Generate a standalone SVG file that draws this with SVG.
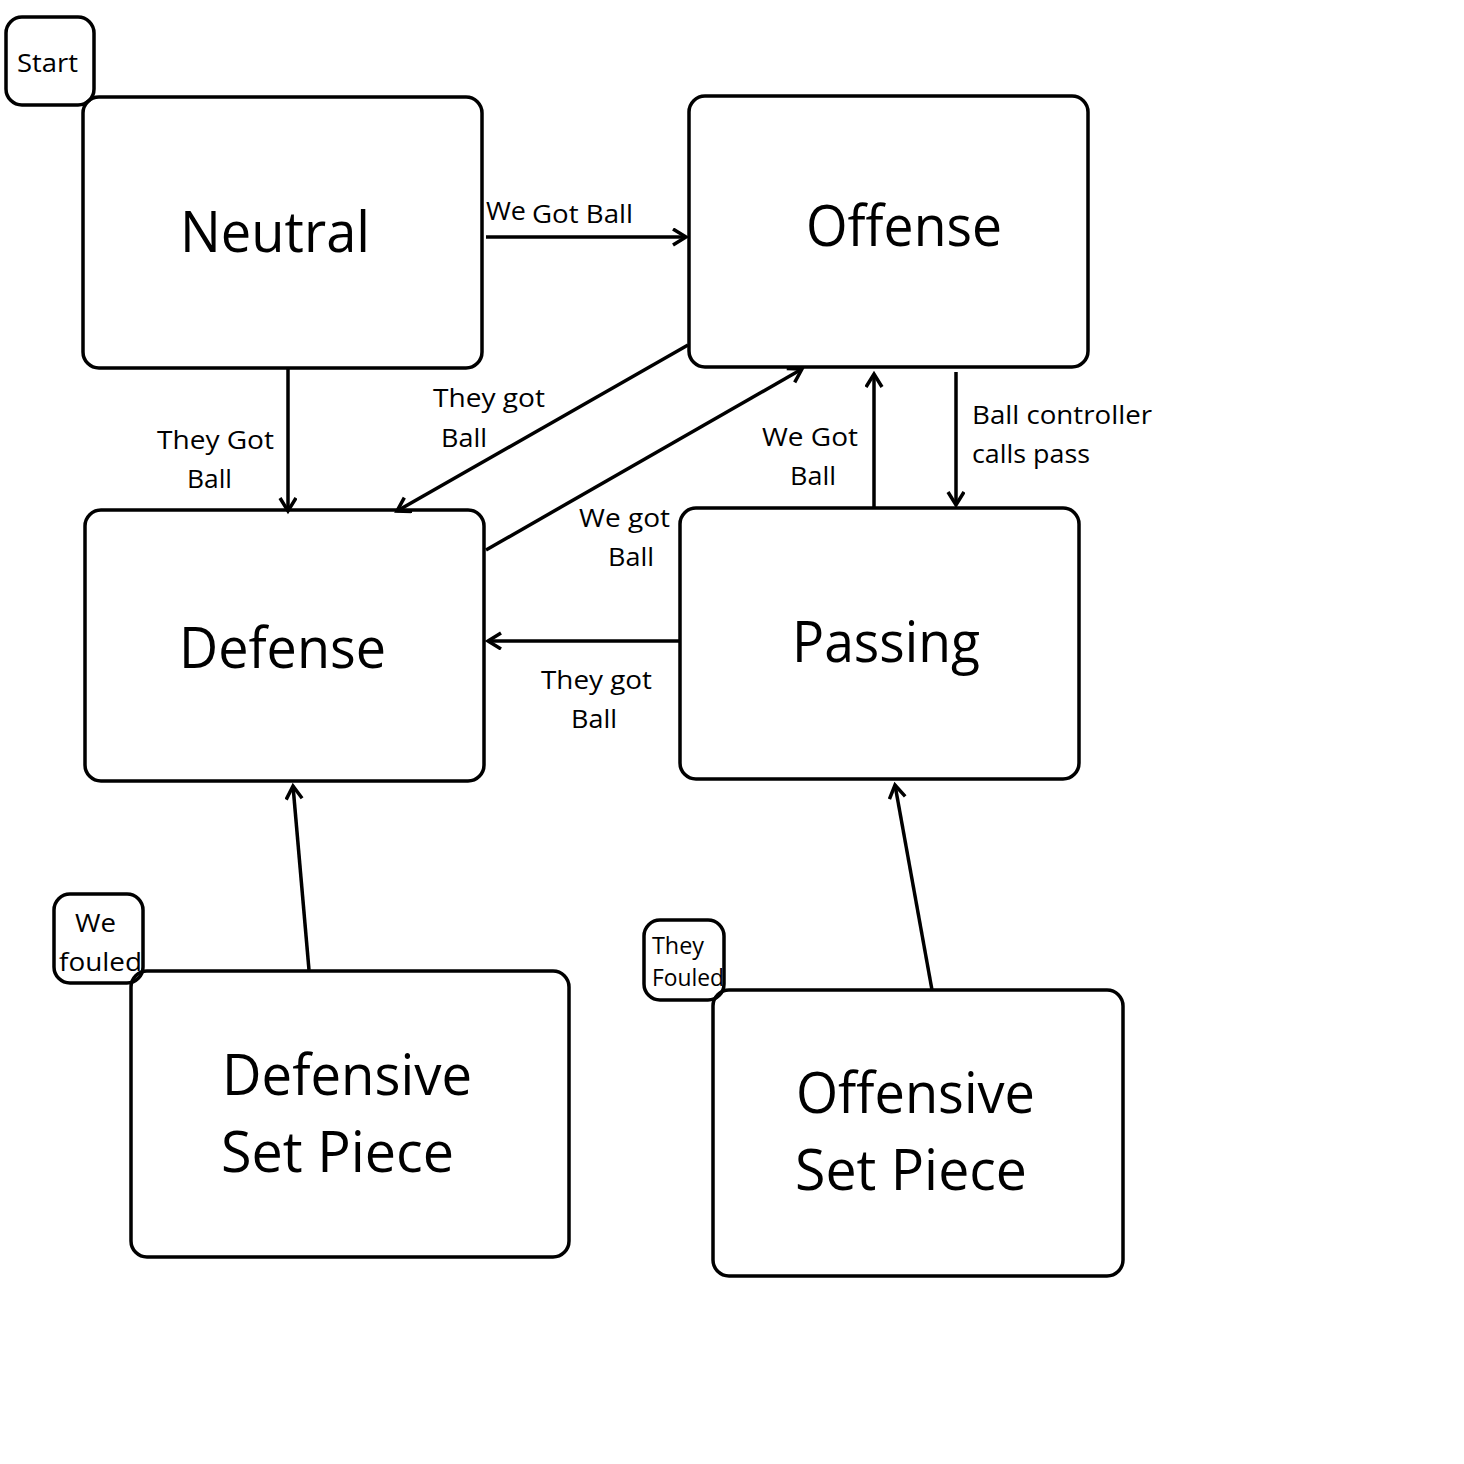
<svg xmlns="http://www.w3.org/2000/svg" width="1464" height="1464" viewBox="0 0 1464 1464">
<defs>
<style>
.box{fill:none;stroke:#000;stroke-width:3.5}
.big{font-family:"Open Sans","Liberation Sans",sans-serif;font-size:56px;fill:#000}
.lbl{font-family:"Open Sans","Liberation Sans",sans-serif;font-size:26px;fill:#000}
.sm{font-family:"Open Sans","Liberation Sans",sans-serif;font-size:23px;fill:#000}
.con{fill:none;stroke:#000;stroke-width:3.5;marker-end:url(#arr)}
</style>
<marker id="arr" markerUnits="userSpaceOnUse" markerWidth="20" markerHeight="20" refX="15" refY="9" orient="auto">
<path d="M2,1 L15,9 L2,17" fill="none" stroke="#000" stroke-width="3.5"/>
</marker>
</defs>
<rect width="1464" height="1464" fill="#fff"/>
<g id="connectors">
<line class="con" x1="486" y1="237" x2="686" y2="237"/>
<line class="con" x1="288" y1="368" x2="288" y2="511"/>
<line class="con" x1="688" y1="345" x2="397" y2="511"/>
<line class="con" x1="486" y1="550" x2="802" y2="369"/>
<line class="con" x1="874" y1="508" x2="874" y2="374"/>
<line class="con" x1="956" y1="372" x2="956" y2="505"/>
<line class="con" x1="680" y1="641" x2="488" y2="641"/>
<line class="con" x1="309" y1="970" x2="293" y2="786"/>
<line class="con" x1="932" y1="990" x2="895" y2="785"/>
<text class="lbl" x="486" y="220" textLength="40" lengthAdjust="spacingAndGlyphs">We</text>
<text class="lbl" x="532" y="223" textLength="101" lengthAdjust="spacingAndGlyphs">Got Ball</text>
<text class="lbl" x="157" y="449" textLength="117" lengthAdjust="spacingAndGlyphs">They Got</text>
<text class="lbl" x="187" y="488" textLength="45" lengthAdjust="spacingAndGlyphs">Ball</text>
<text class="lbl" x="433" y="407" textLength="112" lengthAdjust="spacingAndGlyphs">They got</text>
<text class="lbl" x="441" y="447" textLength="46" lengthAdjust="spacingAndGlyphs">Ball</text>
<text class="lbl" x="579" y="527" textLength="91" lengthAdjust="spacingAndGlyphs">We got</text>
<text class="lbl" x="608" y="566" textLength="46" lengthAdjust="spacingAndGlyphs">Ball</text>
<text class="lbl" x="762" y="446" textLength="96" lengthAdjust="spacingAndGlyphs">We Got</text>
<text class="lbl" x="790" y="485" textLength="46" lengthAdjust="spacingAndGlyphs">Ball</text>
<text class="lbl" x="972" y="424" textLength="180" lengthAdjust="spacingAndGlyphs">Ball controller</text>
<text class="lbl" x="972" y="463" textLength="118" lengthAdjust="spacingAndGlyphs">calls pass</text>
<text class="lbl" x="541" y="689" textLength="111" lengthAdjust="spacingAndGlyphs">They got</text>
<text class="lbl" x="571" y="728" textLength="46" lengthAdjust="spacingAndGlyphs">Ball</text>
</g>
<g id="start">
<rect class="box" x="6" y="17" width="88" height="88" rx="16"/>
<text class="lbl" x="17" y="72" textLength="61" lengthAdjust="spacingAndGlyphs">Start</text>
</g>
<g id="neutral">
<rect class="box" x="83" y="97" width="399" height="271" rx="16"/>
<text class="big" x="180" y="252" textLength="190" lengthAdjust="spacingAndGlyphs">Neutral</text>
</g>
<g id="offense">
<rect class="box" x="689" y="96" width="399" height="271" rx="16"/>
<text class="big" x="806" y="246" textLength="196" lengthAdjust="spacingAndGlyphs">Offense</text>
</g>
<g id="defense">
<rect class="box" x="85" y="510" width="399" height="271" rx="16"/>
<text class="big" x="179" y="668" textLength="207" lengthAdjust="spacingAndGlyphs">Defense</text>
</g>
<g id="passing">
<rect class="box" x="680" y="508" width="399" height="271" rx="16"/>
<text class="big" x="792" y="662" textLength="188" lengthAdjust="spacingAndGlyphs">Passing</text>
</g>
<g id="defensive-set-piece">
<rect class="box" x="131" y="971" width="438" height="286" rx="16"/>
<text class="big" x="222" y="1095" textLength="250" lengthAdjust="spacingAndGlyphs">Defensive</text>
<text class="big" x="221" y="1172" textLength="233" lengthAdjust="spacingAndGlyphs">Set Piece</text>
</g>
<g id="offensive-set-piece">
<rect class="box" x="713" y="990" width="410" height="286" rx="16"/>
<text class="big" x="796" y="1113" textLength="239" lengthAdjust="spacingAndGlyphs">Offensive</text>
<text class="big" x="795" y="1190" textLength="232" lengthAdjust="spacingAndGlyphs">Set Piece</text>
</g>
<g id="we-fouled">
<rect class="box" x="54" y="894" width="89" height="89" rx="16"/>
<text class="lbl" x="75" y="932" textLength="41" lengthAdjust="spacingAndGlyphs">We</text>
<text class="lbl" x="59" y="971" textLength="83" lengthAdjust="spacingAndGlyphs">fouled</text>
</g>
<g id="they-fouled">
<rect class="box" x="644" y="920" width="80" height="80" rx="16"/>
<text class="sm" x="652" y="954" textLength="52" lengthAdjust="spacingAndGlyphs">They</text>
<text class="sm" x="652" y="986" textLength="72" lengthAdjust="spacingAndGlyphs">Fouled</text>
</g>
</svg>
